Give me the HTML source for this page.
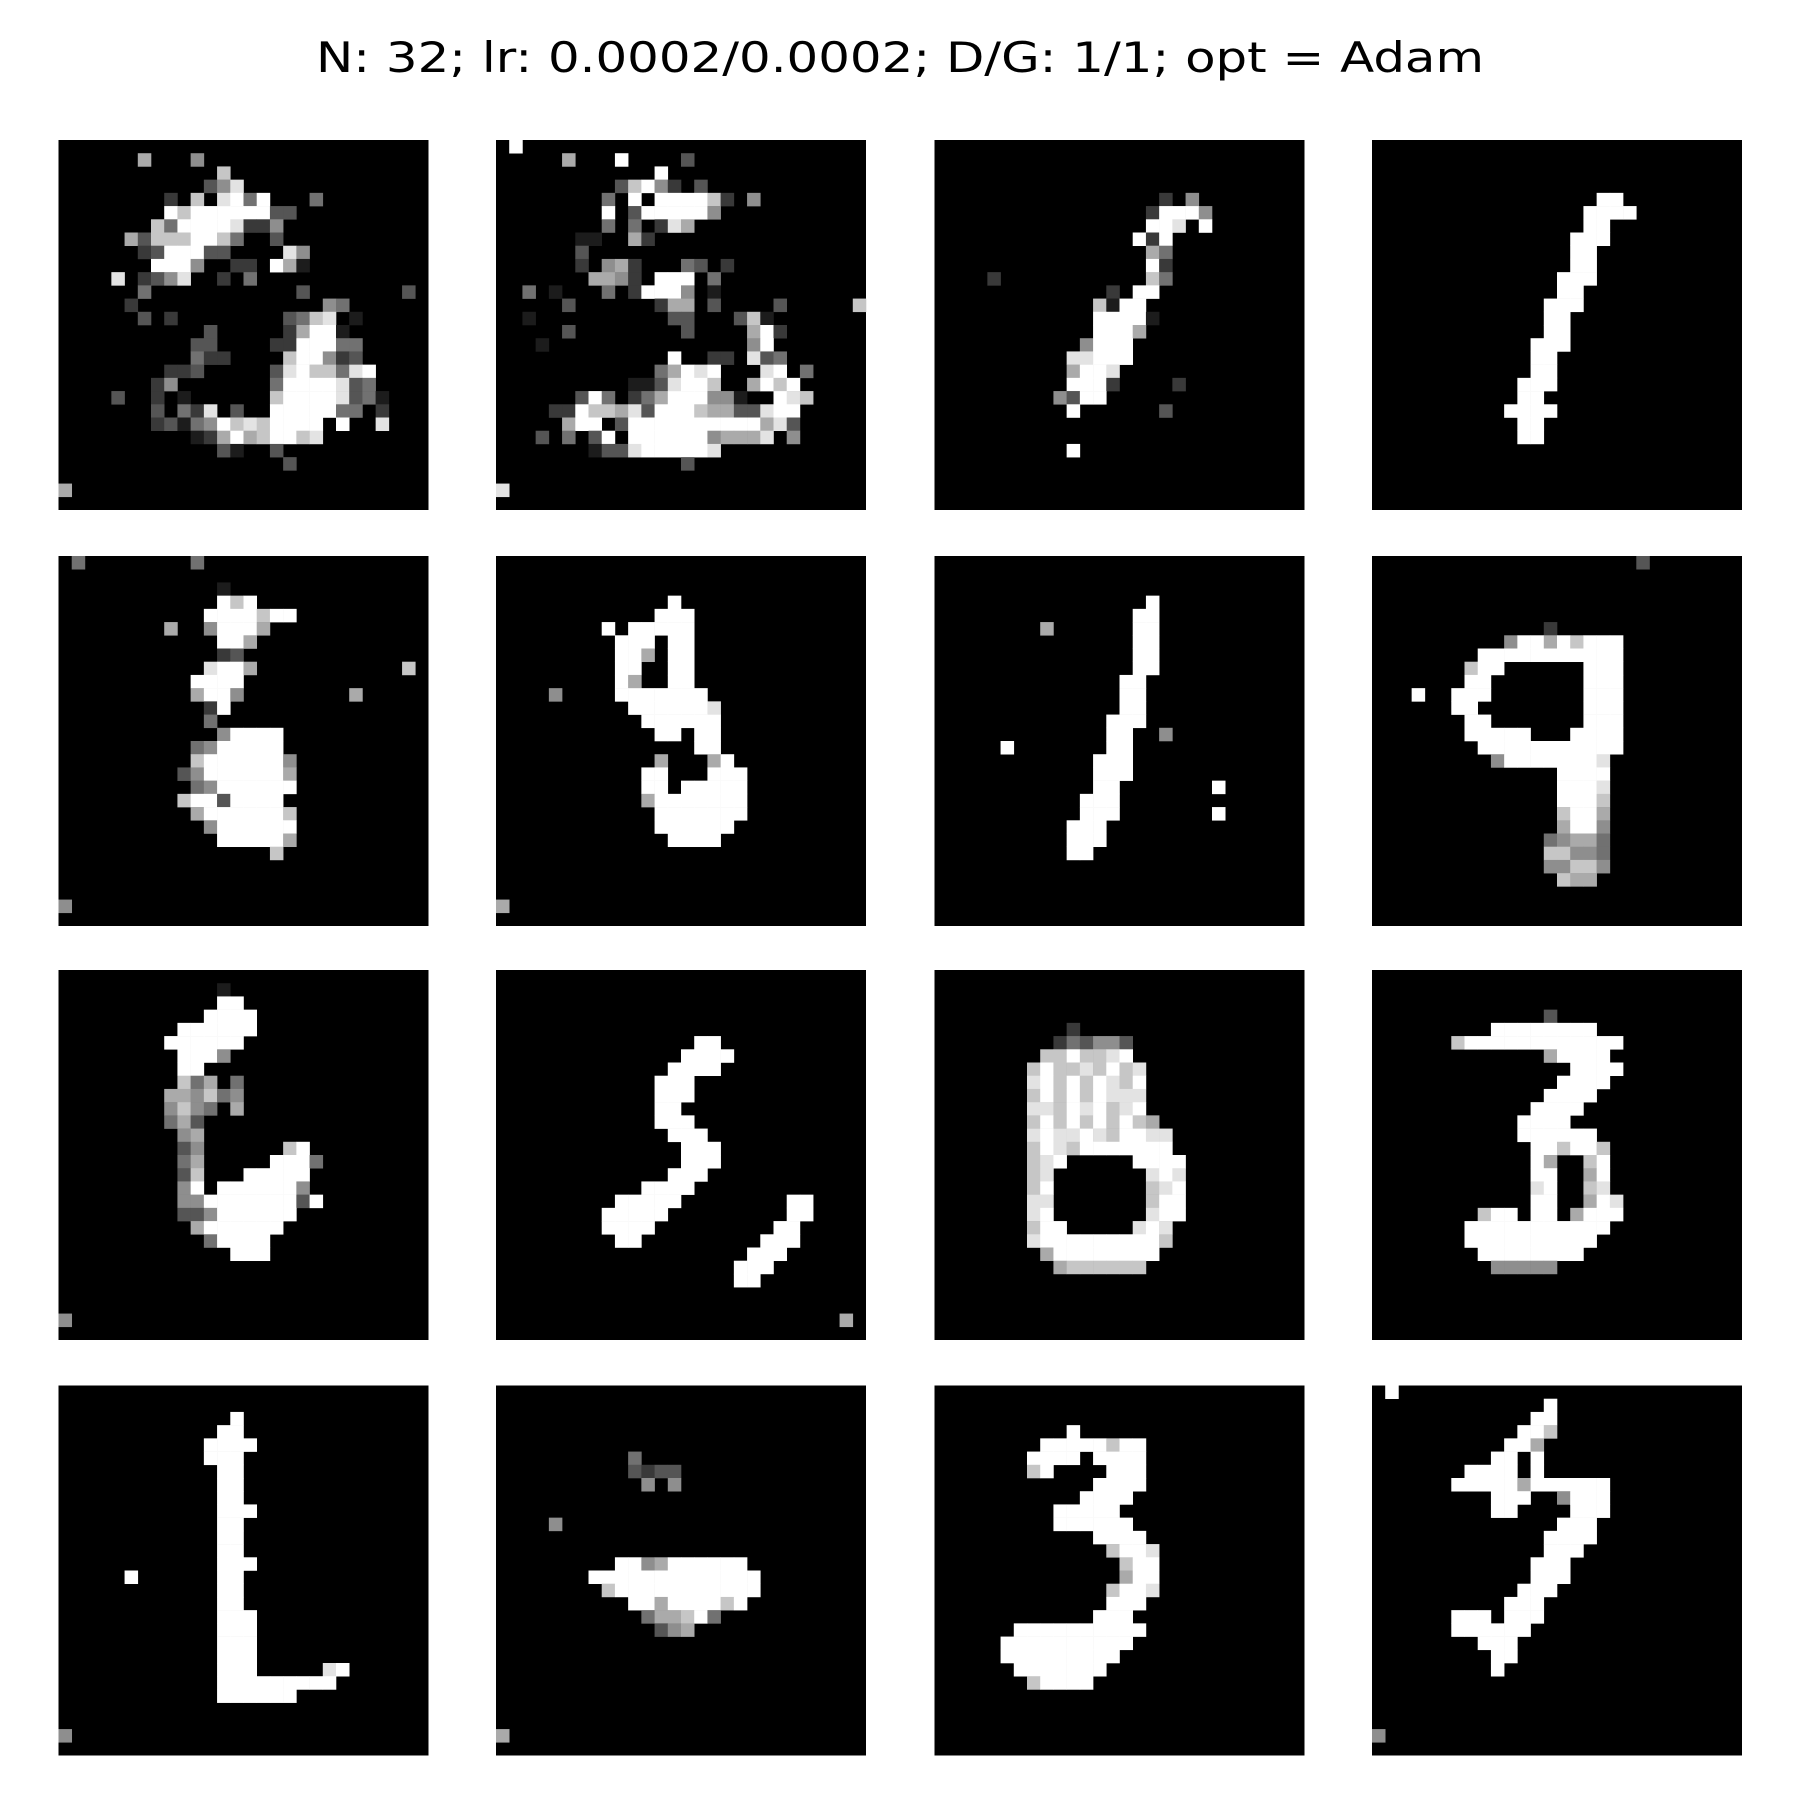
<!DOCTYPE html>
<html>
<head>
<meta charset="utf-8">
<style>
html,body{margin:0;padding:0;background:#fff;}
svg{display:block;}
</style>
</head>
<body>
<svg id="fig" width="1800" height="1800" viewBox="0 0 1800 1800" xmlns="http://www.w3.org/2000/svg">
<rect x="0" y="0" width="1800" height="1800" fill="#fff"/>
<text x="900" y="72" text-anchor="middle" font-family="DejaVu Sans, Liberation Sans, sans-serif" font-size="42" textLength="1168" lengthAdjust="spacingAndGlyphs" fill="#000">N: 32; lr: 0.0002/0.0002; D/G: 1/1; opt = Adam</text>
<g id="panels"></g>
</svg>
<script>
const panelTitles = ["sample-1","sample-2","sample-3","sample-4","sample-5","sample-6","sample-7","sample-8","sample-9","sample-10","sample-11","sample-12","sample-13","sample-14","sample-15","sample-16"];
const sample1 = ["0000000000000000000000000000","0000006000500000000000000000","0000000000007000000000000000","0000000000035800000000000000","0000000020708949000400000000","0000000097999999330000000000","0000000749999822500000000000","0000063777997400300000000000","0000002399933000085000000000","0000000999500220961000000000","0000802358002040000000000000","0000004000000000003000000030","0000020000000000000054000000","0000003020000000034780100000","0000000000030000026991000000","0000000000330000229994400000","0000000000422000079952300000","0000000022300000389774890000","0000000250000000499998340000","0000300201000000799998341000","0000000304280300999994402000","0000000231459787999909008000","0000000000126967997800000000","0000000000003100300000000000","0000000000000000030000000000","0000000000000000000000000000","6000000000000000000000000000","0000000000000000000000000000"];
const sample2 = ["0900000000000000000000000000","0000060009000030000000000000","0000000000009000000000000000","0000000003795203000000000000","0000000040909999720500000000","0000000090399999500000000000","0000000040402860000000000000","0000001100620000000000000000","0000003000000000000000000000","0000002056200043020000000000","0000000665209990400000000000","0040100040299950100000000000","0000030000002660300003000007","0010000000000330003710000000","0000030000000030000692000000","0001000000000000000590000000","0000000000000900220834000000","0000000000004698900089040000","0000000000113899700697900000","0000003940246999551009870000","0000229776839997663389900000","0000069903999999999968300000","0003040390999999566680500000","0000000133899999800000000000","0000000000000030000000000000","0000000000000000000000000000","8000000000000000000000000000","0000000000000000000000000000"];
const sample3 = ["","","","","0000000000000000020500000000","0000000000000000299950000000","0000000000000000998090000000","0000000000000009290000000000","0000000000000000640000000000","0000000000000000920000000000","0000200000000000740000000000","0000000000000209900000000000","0000000000007199000000000000","0000000000009999100000000000","0000000000009996000000000000","0000000000059990000000000000","0000000000889990000000000000","0000000000699800000000000000","0000000000999200002000000000","0000000005399000000000000000","0000000000900000030000000000","","","0000000000900000000000000000"];
const sample4 = ["","","","","0000000000000000099000000000","0000000000000000999900000000","0000000000000000990000000000","0000000000000009990000000000","0000000000000009900000000000","0000000000000009900000000000","0000000000000099900000000000","0000000000000099000000000000","0000000000000999000000000000","0000000000000990000000000000","0000000000000990000000000000","0000000000009990000000000000","0000000000009900000000000000","0000000000009900000000000000","0000000000099900000000000000","0000000000099000000000000000","0000000000999900000000000000","0000000000099000000000000000","0000000000099000000000000000"];
const sample5 = ["0400000000400000000000000000","","0000000000001000000000000000","0000000000009790000000000000","0000000000099997990000000000","0000000060059996000000000000","0000000000009960000000000000","0000000000002300000000000000","0000000000089960000000000070","0000000000999900000000000000","0000000000699500000000600000","0000000000029000000000000000","0000000000040000000000000000","0000000000005999900000000000","0000000000459999900000000000","0000000000799999950000000000","0000000003599999960000000000","0000000000459999990000000000","0000000007993999900000000000","0000000000699999970000000000","0000000000059999990000000000","0000000000009999960000000000","0000000000000000700000000000","","","","5000000000000000000000000000"];
const sample6 = ["","","","0000000000000900000000000000","0000000000009990000000000000","0000000090999990000000000000","0000000009990990000000000000","0000000009960990000000000000","0000000009900990000000000000","0000000009600990000000000000","0000500009999999000000000000","0000000000999999800000000000","0000000000099999900000000000","0000000000009909900000000000","0000000000000009900000000000","0000000000006000690000000000","0000000000099000999000000000","0000000000099099999000000000","0000000000069999999000000000","0000000000009999999000000000","0000000000009999990000000000","0000000000000999900000000000","","","","","6000000000000000000000000000"];
const sample7 = ["","","","0000000000000000900000000000","0000000000000009900000000000","0000000060000009900000000000","0000000000000009900000000000","0000000000000009900000000000","0000000000000009900000000000","0000000000000099000000000000","0000000000000099000000000000","0000000000000099000000000000","0000000000000999000000000000","0000000000000990050000000000","0000090000000990000000000000","0000000000009990000000000000","0000000000009990000000000000","0000000000009900000009000000","0000000000099900000000000000","0000000000099900000009000000","0000000000999000000000000000","0000000000999000000000000000","0000000000990000000000000000"];
const sample8 = ["0000000000000000000030000000","","","","0000000000000000000000000000","0000000000000200000000000000","0000000000599697999000000000","0000000099999999999000000000","0000000799000000999000000000","0000000990000000999000000000","0009009990000000999000000000","0000009900000000999000000000","0000000990000000999000000000","0000000999990009999000000000","0000000099999999999000000000","0000000005999999980000000000","0000000000000099990000000000","0000000000000099980000000000","0000000000000099970000000000","0000000000000079960000000000","0000000000000069950000000000","0000000000000456640000000000","0000000000000775540000000000","0000000000000557750000000000","0000000000000076600000000000"];
const sample9 = ["","0000000000001000000000000000","0000000000009900000000000000","0000000000099990000000000000","0000000009999990000000000000","0000000099999900000000000000","0000000009995000000000000000","0000000009900000000000000000","0000000007460400000000000000","0000000066574500000000000000","0000000057540600000000000000","0000000046300000000000000000","0000000005600000000000000000","0000000003500000079000000000","0000000004600000999400000000","0000000003700099999000000000","0000000005909999995000000000","0000000005599999993900000000","0000000003359999990000000000","0000000000699999900000000000","0000000000049999000000000000","0000000000000999000000000000","","","","","5000000000000000000000000000"];
const sample10 = ["","","","","","0000000000000009900000000000","0000000000000099990000000000","0000000000000999900000000000","0000000000009990000000000000","0000000000009990000000000000","0000000000009900000000000000","0000000000009990000000000000","0000000000000999000000000000","0000000000000099900000000000","0000000000000099900000000000","0000000000000999000000000000","0000000000099990000000000000","0000000009999900000000990000","0000000099999000000000990000","0000000099990000000009900000","0000000009900000000099900000","0000000000000000000999000000","0000000000000000009990000000","0000000000000000009900000000","","","0000000000000000000000000060"];
const sample11 = ["","0000000000000000000000000000","","","0000000000200000000000000000","0000000002435530000000000000","0000000077977890000000000000","0000000797787978000000000000","0000000897979879000000000000","0000000797979888000000000000","0000000887989789000000000000","0000000797979797600000000000","0000000898898799880000000000","0000000798799999990000000000","0000000789000009999000000000","0000000780000000898000000000","0000000790000000789000000000","0000000880000000799000000000","0000000890000000899000000000","0000000799000008980000000000","0000000899999999970000000000","0000000069999999900000000000","0000000006777777000000000000"];
const sample12 = ["","","","0000000000000300000000000000","0000000009999999900000000000","0000007999999999999000000000","0000000000000699990000000000","0000000000000009999000000000","0000000000000099990000000000","0000000000000999900000000000","0000000000009999000000000000","0000000000099990000000000000","0000000000099999900000000000","0000000000009979970000000000","0000000000009600790000000000","0000000000009900690000000000","0000000000008900780000000000","0000000000009900698000000000","0000000079909906999000000000","0000000999999999990000000000","0000000999999999900000000000","0000000099999999000000000000","0000000005555500000000000000"];
const sample13 = ["","","0000000000000900000000000000","0000000000009900000000000000","0000000000099990000000000000","0000000000099900000000000000","0000000000009900000000000000","0000000000009900000000000000","0000000000009900000000000000","0000000000009990000000000000","0000000000009900000000000000","0000000000009900000000000000","0000000000009900000000000000","0000000000009990000000000000","0000090000009900000000000000","0000000000009900000000000000","0000000000009900000000000000","0000000000009990000000000000","0000000000009990000000000000","0000000000009990000000000000","0000000000009990000000000000","0000000000009990000089000000","0000000000009999999990000000","0000000000009999990000000000","","","5000000000000000000000000000"];
const sample14 = ["","","","","","0000000000400000000000000000","0000000000323300000000000000","0000000000050500000000000000","","","0000500000000000000000000000","","","0000000009956999999000000000","0000000999999999999900000000","0000000079999999999900000000","0000000000996999979000000000","0000000000046679400000000000","0000000000003560000000000000","","","","","","","","6000000000000000000000000000"];
const sample15 = ["","0000000000000000000000000000","","0000000000900000000000000000","0000000099999799000000000000","0000000999909999000000000000","0000000790000999000000000000","0000000000009999000000000000","0000000000099990000000000000","0000000009999900000000000000","0000000009999990000000000000","0000000000009999000000000000","0000000000000799800000000000","0000000000000079900000000000","0000000000000069900000000000","0000000000000799800000000000","0000000000000999000000000000","0000000000009990000000000000","0000009999999999000000000000","0000099999999990000000000000","0000099999999900000000000000","0000009999999000000000000000","0000000799990000000000000000"];
const sample16 = ["0900000000000000000000000000","0000000000000900000000000000","0000000000009900000000000000","0000000000099700000000000000","0000000000996000000000000000","0000000009909000000000000000","0000000999909000000000000000","0000009999969999990000000000","0000000009990059990000000000","0000000009900009990000000000","0000000000000099900000000000","0000000000000999900000000000","0000000000000999000000000000","0000000000009990000000000000","0000000000009990000000000000","0000000000099900000000000000","0000000000999000000000000000","0000009990999000000000000000","0000009999990000000000000000","0000000099900000000000000000","0000000009900000000000000000","0000000009000000000000000000","","","","","5000000000000000000000000000"];
const samples = [sample1,sample2,sample3,sample4,sample5,sample6,sample7,sample8,sample9,sample10,sample11,sample12,sample13,sample14,sample15,sample16];

const NS = "http://www.w3.org/2000/svg";
const colX = [58.5, 496, 934.5, 1372];
const rowY = [140, 556, 970, 1385.5];
const PANEL = 370, GRID = 28, CELL = PANEL / GRID;
const host = document.getElementById('panels');
function shade(v){ const g = Math.round(v / 9 * 255); return 'rgb(' + g + ',' + g + ',' + g + ')'; }
samples.forEach((rows, i) => {
  const px = colX[i % 4], py = rowY[Math.floor(i / 4)];
  const g = document.createElementNS(NS, 'g');
  
  
  const bg = document.createElementNS(NS, 'rect');
  bg.setAttribute('x', px); bg.setAttribute('y', py);
  bg.setAttribute('width', PANEL); bg.setAttribute('height', PANEL);
  bg.setAttribute('fill', '#000');
  
  
  g.appendChild(bg);
  for (let r = 0; r < GRID; r++) {
    const s = rows[r] || '';
    for (let c = 0; c < GRID; c++) {
      const v = parseInt(s[c] || '0', 10);
      if (!v) continue;
      const cell = document.createElementNS(NS, 'rect');
      cell.setAttribute('x', (px + c * CELL).toFixed(2));
      cell.setAttribute('y', (py + r * CELL).toFixed(2));
      cell.setAttribute('width', (CELL + 0.3).toFixed(2));
      cell.setAttribute('height', (CELL + 0.3).toFixed(2));
      cell.setAttribute('fill', shade(v));
      
      
      g.appendChild(cell);
    }
  }
  host.appendChild(g);
});
</script>
</body>
</html>
